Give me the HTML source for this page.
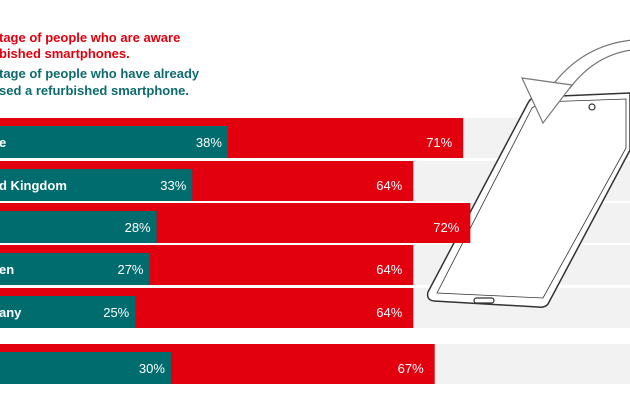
<!DOCTYPE html>
<html><head><meta charset="utf-8"><style>
body{margin:0;width:630px;height:412px;overflow:hidden;background:#fff;font-family:"Liberation Sans",sans-serif}
</style></head><body>
<svg width="630" height="412" viewBox="0 0 630 412">
<g font-weight="bold" font-size="13">
<text x="-1" y="42" fill="#e2000f">tage of people who are aware</text>
<text x="-1" y="58" fill="#e2000f">bished smartphones.</text>
<text x="-1" y="78" fill="#0d6b6e">tage of people who have already</text>
<text x="-1" y="95" fill="#0d6b6e">sed a refurbished smartphone.</text>
</g>
<g id="bgs"></g>
<g id="phone" fill="none" stroke="#333" stroke-width="1.2">
<path d="M537,97 L630,93 L630,150 L548,304 Q545,308 538,307 L434,301 Q426,300 428,292 L528,103 Q531,97 537,97 Z" fill="#fff" stroke-width="1.5"/>
<path d="M541,102 L626,99 L626,148 L543,298 L437,293 L532,108 Z" stroke-width="0.8"/>
<circle cx="592" cy="107" r="3"/>
<rect x="474" y="298" width="20" height="5" rx="2.5"/>
<path d="M555,82 Q585,45 632,40 L632,50 Q595,55 570,88 Z" fill="#fff" stroke="#777"/>
<polygon points="522,78 572,85 543,123" fill="#fff" stroke="#777"/>
</g>
<g id="bars"></g>
</svg>
<script>
const categories=["e","d Kingdom","","en","any",""];
const aware=[71,64,72,64,64,67];
const bought=[38,33,28,27,25,30];
const rowTops=[118,161,203,245,288,344];
const x=v=>-43+7.13*v;
const NS="http://www.w3.org/2000/svg";
const g=document.getElementById('bars');
const gb=document.getElementById('bgs');
function mk(t,a,p){const e=document.createElementNS(NS,t);for(const k in a)e.setAttribute(k,a[k]);(p||g).appendChild(e);return e;}
categories.forEach((c,i)=>{
  const y=rowTops[i],h=40;
  const bg=mk('rect',{x:0,y:y,width:630,height:h,fill:'#f2f2f2'},gb);
  
  
  const r=mk('rect',{x:0,y:y,width:x(aware[i]),height:h,fill:'#e2000f'});
  
  
  const t=mk('rect',{x:0,y:y+8,width:x(bought[i]),height:h-8,fill:'#006c6e'});
  
  
  const ty=y+29;
  const lc=mk('text',{x:-1,y:ty,fill:'#fff','font-size':13,'font-weight':'bold'});lc.textContent=c;
  
  
  const l1=mk('text',{x:x(bought[i])-6,y:ty,fill:'#fff','font-size':13,'text-anchor':'end'});l1.textContent=bought[i]+'%';
  
  
  const l2=mk('text',{x:x(aware[i])-11,y:ty,fill:'#fff','font-size':13,'text-anchor':'end'});l2.textContent=aware[i]+'%';
  
  
});
</script>
</body></html>
